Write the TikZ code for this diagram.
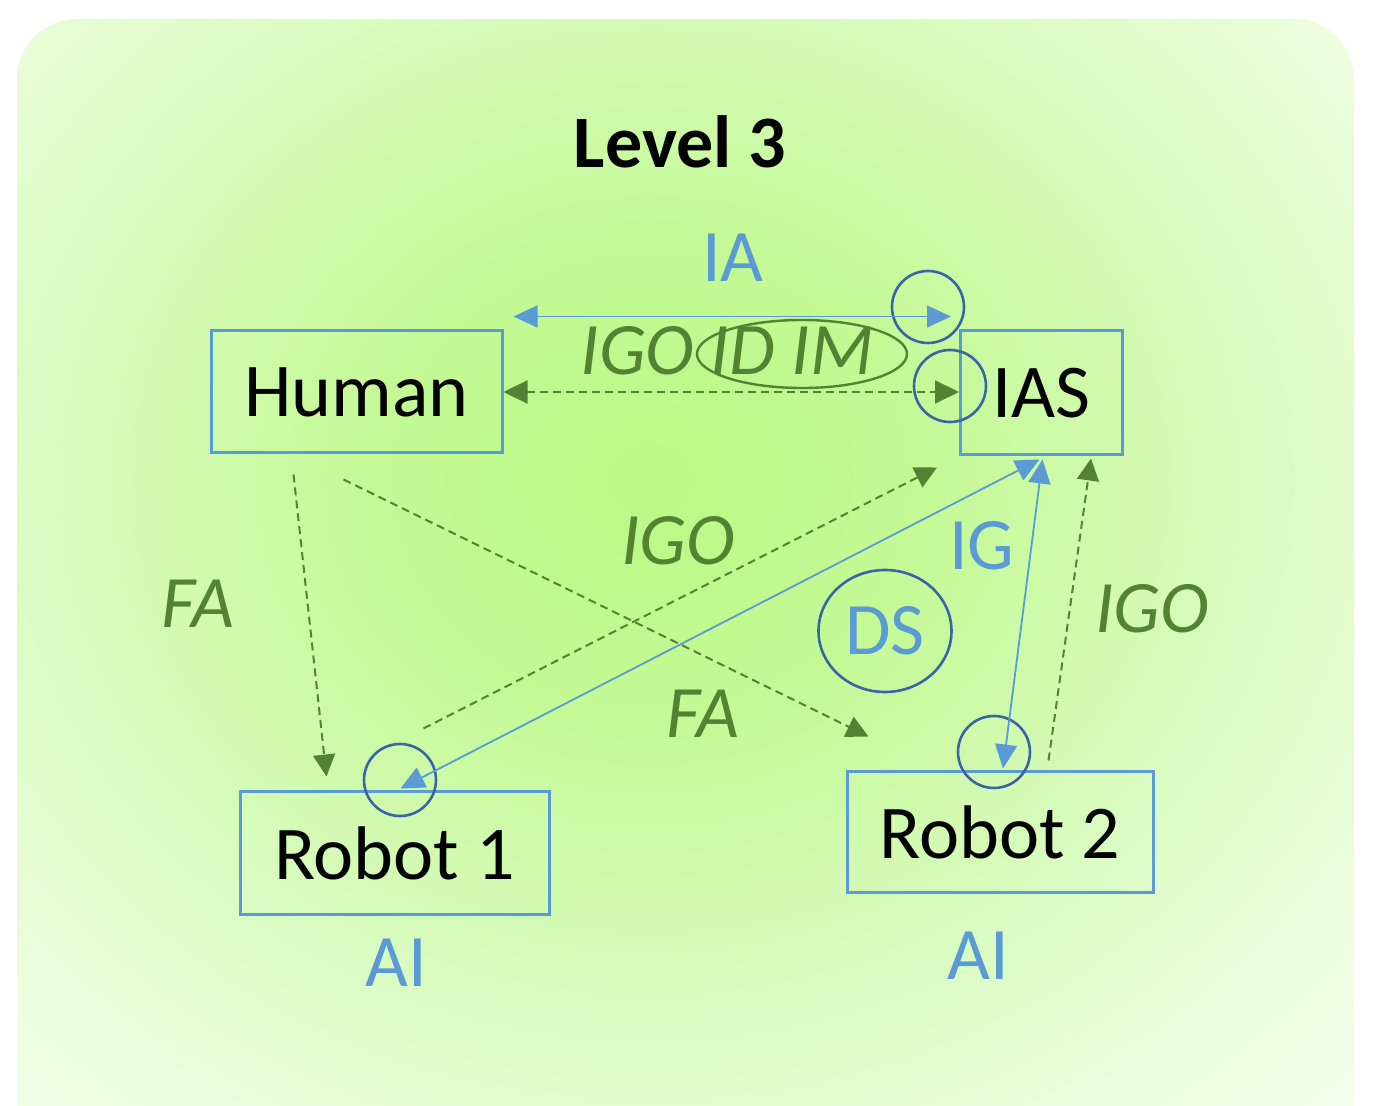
\documentclass[tikz,border=0pt]{standalone}
\usepackage{fontspec}
\setmainfont{Carlito}
\usetikzlibrary{arrows.meta}
\usetikzlibrary{calc}
\usetikzlibrary{shapes.geometric}

\definecolor{boxblue}{HTML}{5B9BD5}
\definecolor{ringblue}{HTML}{3A64A6}
\definecolor{leafgreen}{HTML}{548235}
\definecolor{glowA}{HTML}{BAF985}
\definecolor{glowB}{HTML}{C4F995}
\definecolor{glowC}{HTML}{DAFBC2}
\definecolor{glowD}{HTML}{EEFDE0}
\definecolor{glowE}{HTML}{F9FEF3}
\pgfdeclareradialshading{bgglow}{\pgfpoint{0bp}{0bp}}{color(0bp)=(glowA); color(8.5bp)=(glowB); color(19.5bp)=(glowC); color(27bp)=(glowD); color(35bp)=(glowE); color(42bp)=(white); color(60bp)=(white)}

\tikzset{
	agent/.style={draw=boxblue, line width=1.5pt, inner sep=0pt, font=\fontsize{38}{44}\selectfont},
	ring/.style={draw=ringblue, line width=1.3pt, circle, minimum size=36pt, inner sep=0pt},
	lbl/.style={anchor=base, font=\fontsize{37}{44}\selectfont},
	bluelbl/.style={lbl, text=boxblue},
	greenlbl/.style={lbl, text=leafgreen, font=\fontsize{37}{44}\selectfont\itshape},
	info/.style={draw=boxblue, line width=0.9pt, {Triangle[length=12pt,width=11pt]}-{Triangle[length=12pt,width=11pt]}},
	flow/.style={draw=leafgreen, line width=1pt, dash pattern=on 4pt off 2.5pt, -{Triangle[length=11pt,width=11pt]}}
}

\begin{document}
\begin{tikzpicture}[x=0.5pt, y=-0.5pt]
	\useasboundingbox (0,0) rectangle (1373,1106);
	\begin{scope}
		\clip[rounded corners=30pt] (17,19) rectangle (1354,1160);
		\shade[shading=bgglow] (-150,-220) rectangle (1450,1180);
	\end{scope}

	\node[lbl, font=\fontsize{37}{44}\selectfont\bfseries] (title) at (680,168) {Level 3};

	% the four agents
	\node[agent, minimum width=145.5pt, minimum height=61pt] (Human) at (356.5,392) {Human};
	\node[agent, minimum width=81pt, minimum height=62pt] (IAS) at (1041.5,393) {IAS};
	\node[agent, minimum width=154.5pt, minimum height=61.5pt] (Robot1) at (394.5,853.5) {Robot 1};
	\node[agent, minimum width=153pt, minimum height=60.5pt] (Robot2) at (1000,832.5) {Robot 2};

	% rings and ovals
	\node[ring] (ringIA) at (928,307) {};
	\node[ring] (ringIGO) at (950,386) {};
	\node[ring] (ringR1) at (400,780) {};
	\node[ring] (ringR2) at (994,752) {};
	\node[draw=ringblue, line width=1.3pt, ellipse, minimum width=66.5pt, minimum height=61pt, inner sep=0pt, text=boxblue, font=\fontsize{37}{44}\selectfont] (DS) at (885,631) {DS};
	\node[draw=leafgreen, line width=1.2pt, ellipse, minimum width=105pt, minimum height=34pt, inner sep=0pt] (ovalID) at (802,354) {};

	% labels
	\node[bluelbl] (IA) at (733,282) {IA};
	\node[greenlbl] (IGOtop) at (727,375) {IGO ID IM};
	\node[greenlbl] (IGOmid) at (678,565) {IGO};
	\node[greenlbl] (FAleft) at (198,628) {FA};
	\node[greenlbl] (FAmid) at (703,738) {FA};
	\node[bluelbl] (IG) at (982,570) {IG};
	\node[greenlbl] (IGOright) at (1152,633) {IGO};
	\node[bluelbl] (AIone) at (396.5,987) {AI};
	\node[bluelbl] (AItwo) at (978,980) {AI};

	% connectors
	\draw[info] ($(Human.north east)+(10,-13)$) -- ($(IAS.north west)+(-8,-13)$);
	\draw[flow, {Triangle[length=12pt,width=11.5pt]}-{Triangle[length=12pt,width=11.5pt]}] (Human.east) -- (Human.east -| IAS.west);
	\draw[flow] ($(Human.south west)+(84,20)$) -- ($(Robot1.north west)+(88,-14)$);
	\draw[flow] ($(Human.south west)+(134,25)$) -- ($(Robot2.north west)+(23,-34)$);
	\draw[flow] ($(Robot1.north west)+(185,-62)$) -- ($(IAS.south west)+(-22,11)$);
	\draw[flow] ($(Robot2.north east)+(-106,-10)$) -- ($(IAS.south east)+(-33,2)$);
	\draw[info] ($(Robot1.north)+(6,-2)$) -- ($(IAS.south)+(-2,3)$);
	\draw[info] ($(IAS.south)+(1,3)$) -- ($(Robot2.north)+(3,-2)$);
\end{tikzpicture}
\end{document}
